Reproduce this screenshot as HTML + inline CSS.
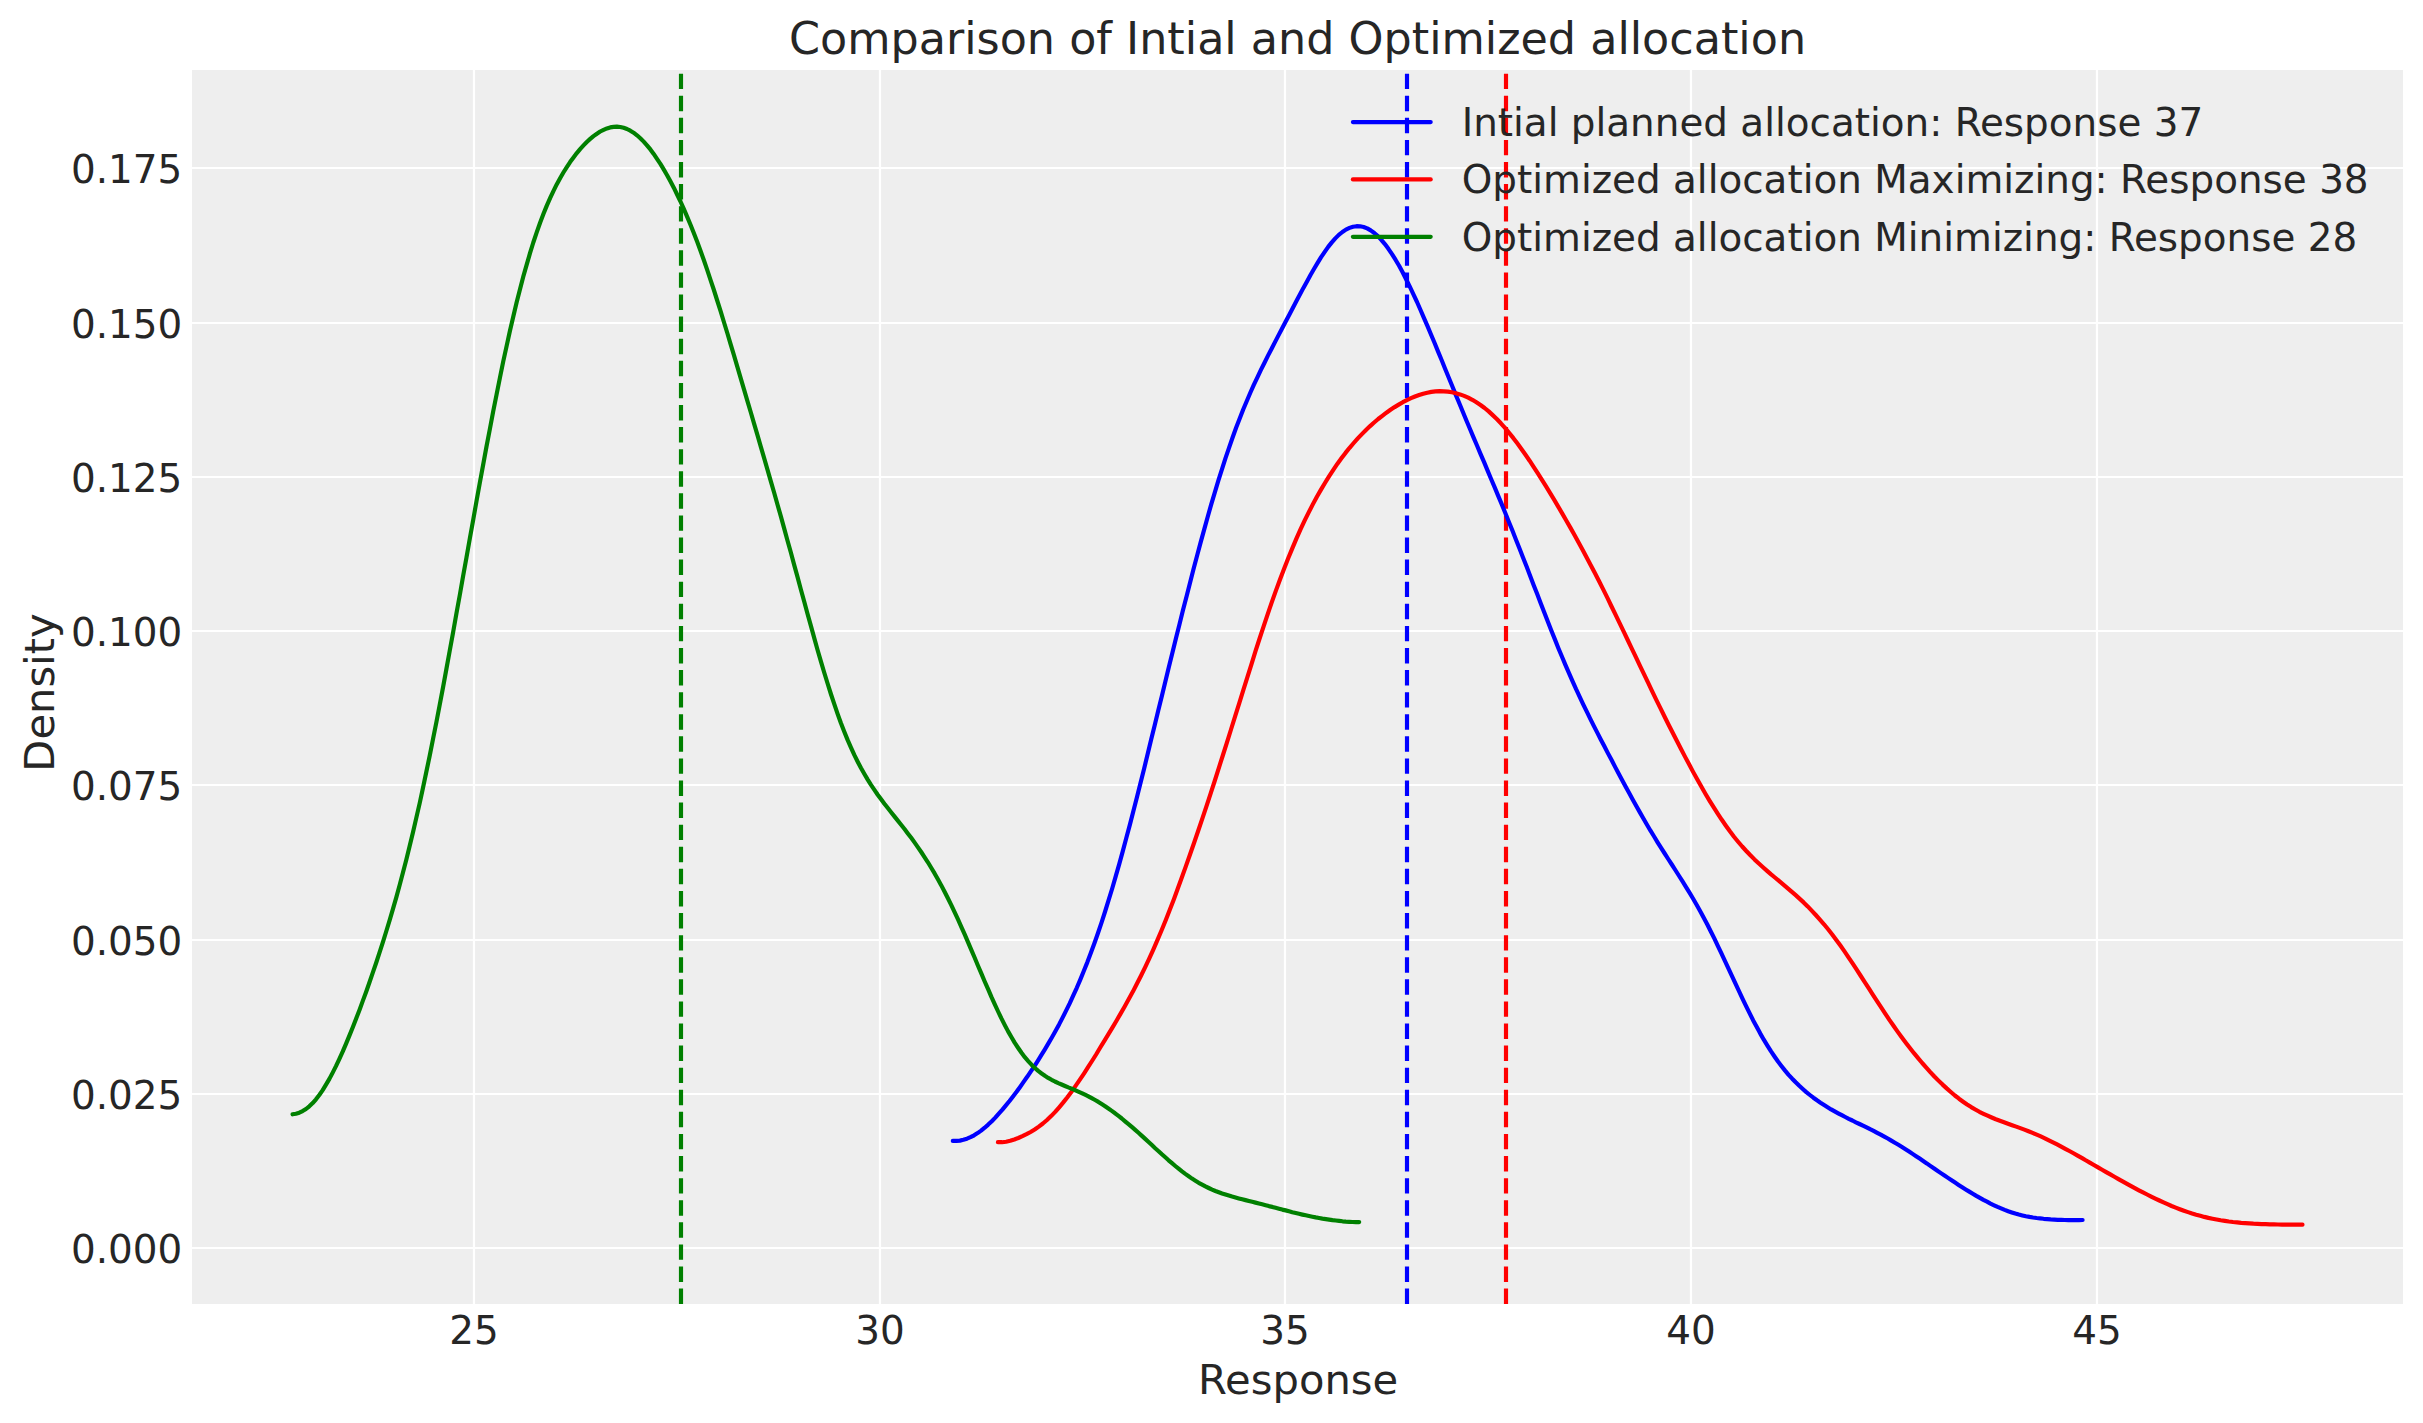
<!DOCTYPE html>
<html lang="en"><head><meta charset="utf-8">
<title>Comparison of Intial and Optimized allocation</title>
<style>
html,body{margin:0;padding:0;background:#fff;}
body{width:2423px;height:1423px;overflow:hidden;}
svg{display:block;}
text{font-family:"DejaVu Sans","Liberation Sans",sans-serif;fill:#262626;}
.tk{font-size:38.89px;}
.lb{font-size:41.67px;}
.tt{font-size:44.44px;}
.lg{font-size:38.89px;}
.grid line{stroke:#fff;stroke-width:2.22;}
.cv{fill:none;stroke-width:4.17;stroke-linecap:round;stroke-linejoin:round;}
.vl{fill:none;stroke-width:4.17;stroke-dasharray:15.42 6.67;}
</style></head><body>
<svg width="2423" height="1423" viewBox="0 0 2423 1423">
<rect x="0" y="0" width="2423" height="1423" fill="#ffffff"/>
<rect x="192" y="70" width="2211" height="1234" fill="#eeeeee"/>
<g class="grid">
<line x1="474.00" y1="70" x2="474.00" y2="1304"/>
<line x1="880.00" y1="70" x2="880.00" y2="1304"/>
<line x1="1285.00" y1="70" x2="1285.00" y2="1304"/>
<line x1="1691.00" y1="70" x2="1691.00" y2="1304"/>
<line x1="2097.00" y1="70" x2="2097.00" y2="1304"/>
<line x1="192" y1="1248.00" x2="2403" y2="1248.00"/>
<line x1="192" y1="1094.00" x2="2403" y2="1094.00"/>
<line x1="192" y1="940.00" x2="2403" y2="940.00"/>
<line x1="192" y1="785.00" x2="2403" y2="785.00"/>
<line x1="192" y1="631.00" x2="2403" y2="631.00"/>
<line x1="192" y1="477.00" x2="2403" y2="477.00"/>
<line x1="192" y1="323.00" x2="2403" y2="323.00"/>
<line x1="192" y1="168.00" x2="2403" y2="168.00"/>
</g>
<path class="vl" stroke="#0000ff" d="M1407,1304 L1407,70"/>
<path class="vl" stroke="#ff0000" d="M1506,1304 L1506,70"/>
<path class="vl" stroke="#008000" d="M681,1304 L681,70"/>
<path class="cv" stroke="#0000ff" d="M952.8,1140.9 L956.3,1140.9 L959.9,1140.6 L963.4,1139.8 L967.0,1138.7 L970.5,1137.2 L974.1,1135.3 L977.6,1133.1 L981.1,1130.6 L984.7,1127.7 L988.2,1124.6 L991.8,1121.2 L995.3,1117.6 L998.8,1113.7 L1002.4,1109.6 L1005.9,1105.4 L1009.5,1101.0 L1013.0,1096.4 L1016.6,1091.7 L1020.1,1086.9 L1023.6,1081.9 L1027.2,1076.8 L1030.7,1071.6 L1034.3,1066.3 L1037.8,1060.8 L1041.3,1055.1 L1044.9,1049.3 L1048.4,1043.4 L1052.0,1037.2 L1055.5,1030.9 L1059.1,1024.4 L1062.6,1017.6 L1066.1,1010.6 L1069.7,1003.3 L1073.2,995.7 L1076.8,987.8 L1080.3,979.6 L1083.8,971.0 L1087.4,962.1 L1090.9,952.8 L1094.5,943.1 L1098.0,933.0 L1101.6,922.4 L1105.1,911.5 L1108.6,900.2 L1112.2,888.5 L1115.7,876.4 L1119.3,863.9 L1122.8,851.1 L1126.3,838.0 L1129.9,824.6 L1133.4,810.9 L1137.0,797.0 L1140.5,782.9 L1144.1,768.7 L1147.6,754.3 L1151.1,739.8 L1154.7,725.3 L1158.2,710.8 L1161.8,696.2 L1165.3,681.7 L1168.8,667.2 L1172.4,652.8 L1175.9,638.5 L1179.5,624.2 L1183.0,610.1 L1186.6,596.2 L1190.1,582.4 L1193.6,568.7 L1197.2,555.3 L1200.7,542.1 L1204.3,529.1 L1207.8,516.5 L1211.3,504.1 L1214.9,492.1 L1218.4,480.4 L1222.0,469.1 L1225.5,458.1 L1229.1,447.6 L1232.6,437.5 L1236.1,427.8 L1239.7,418.5 L1243.2,409.5 L1246.8,401.0 L1250.3,392.8 L1253.8,384.9 L1257.4,377.3 L1260.9,369.9 L1264.5,362.7 L1268.0,355.6 L1271.6,348.7 L1275.1,341.9 L1278.6,335.1 L1282.2,328.3 L1285.7,321.5 L1289.3,314.7 L1292.8,308.0 L1296.3,301.3 L1299.9,294.6 L1303.4,287.9 L1307.0,281.4 L1310.5,275.0 L1314.1,268.8 L1317.6,262.9 L1321.1,257.2 L1324.7,251.9 L1328.2,246.9 L1331.8,242.4 L1335.3,238.4 L1338.8,234.9 L1342.4,232.0 L1345.9,229.6 L1349.5,227.9 L1353.0,226.7 L1356.6,226.2 L1360.1,226.3 L1363.6,227.0 L1367.2,228.4 L1370.7,230.4 L1374.3,233.0 L1377.8,236.1 L1381.3,239.8 L1384.9,244.1 L1388.4,248.8 L1392.0,254.1 L1395.5,259.7 L1399.1,265.8 L1402.6,272.3 L1406.1,279.2 L1409.7,286.4 L1413.2,293.8 L1416.8,301.5 L1420.3,309.5 L1423.8,317.6 L1427.4,325.9 L1430.9,334.3 L1434.5,342.8 L1438.0,351.4 L1441.6,360.0 L1445.1,368.7 L1448.6,377.3 L1452.2,386.0 L1455.7,394.6 L1459.3,403.2 L1462.8,411.7 L1466.3,420.2 L1469.9,428.7 L1473.4,437.1 L1477.0,445.5 L1480.5,453.9 L1484.1,462.2 L1487.6,470.6 L1491.1,479.0 L1494.7,487.4 L1498.2,495.9 L1501.8,504.4 L1505.3,513.0 L1508.8,521.7 L1512.4,530.5 L1515.9,539.4 L1519.5,548.4 L1523.0,557.4 L1526.6,566.5 L1530.1,575.7 L1533.6,584.9 L1537.2,594.1 L1540.7,603.3 L1544.3,612.5 L1547.8,621.6 L1551.3,630.6 L1554.9,639.4 L1558.4,648.2 L1562.0,656.7 L1565.5,665.1 L1569.1,673.3 L1572.6,681.3 L1576.1,689.2 L1579.7,696.8 L1583.2,704.3 L1586.8,711.6 L1590.3,718.8 L1593.8,725.9 L1597.4,732.9 L1600.9,739.8 L1604.5,746.6 L1608.0,753.4 L1611.6,760.1 L1615.1,766.9 L1618.6,773.5 L1622.2,780.2 L1625.7,786.8 L1629.3,793.3 L1632.8,799.7 L1636.3,806.1 L1639.9,812.4 L1643.4,818.6 L1647.0,824.7 L1650.5,830.7 L1654.1,836.5 L1657.6,842.3 L1661.1,847.9 L1664.7,853.5 L1668.2,859.0 L1671.8,864.5 L1675.3,870.0 L1678.8,875.5 L1682.4,881.1 L1685.9,886.8 L1689.5,892.6 L1693.0,898.5 L1696.6,904.7 L1700.1,911.0 L1703.6,917.6 L1707.2,924.3 L1710.7,931.3 L1714.3,938.4 L1717.8,945.8 L1721.3,953.2 L1724.9,960.8 L1728.4,968.4 L1732.0,976.1 L1735.5,983.7 L1739.1,991.3 L1742.6,998.8 L1746.1,1006.2 L1749.7,1013.4 L1753.2,1020.4 L1756.8,1027.1 L1760.3,1033.6 L1763.8,1039.7 L1767.4,1045.6 L1770.9,1051.2 L1774.5,1056.5 L1778.0,1061.5 L1781.6,1066.2 L1785.1,1070.6 L1788.6,1074.8 L1792.2,1078.7 L1795.7,1082.3 L1799.3,1085.8 L1802.8,1089.0 L1806.3,1092.1 L1809.9,1095.0 L1813.4,1097.7 L1817.0,1100.3 L1820.5,1102.7 L1824.1,1105.0 L1827.6,1107.2 L1831.1,1109.4 L1834.7,1111.4 L1838.2,1113.3 L1841.8,1115.2 L1845.3,1117.0 L1848.8,1118.8 L1852.4,1120.5 L1855.9,1122.3 L1859.5,1124.0 L1863.0,1125.7 L1866.6,1127.4 L1870.1,1129.2 L1873.6,1130.9 L1877.2,1132.8 L1880.7,1134.6 L1884.3,1136.6 L1887.8,1138.5 L1891.3,1140.6 L1894.9,1142.7 L1898.4,1144.8 L1902.0,1147.0 L1905.5,1149.2 L1909.1,1151.5 L1912.6,1153.9 L1916.1,1156.2 L1919.7,1158.6 L1923.2,1161.0 L1926.8,1163.4 L1930.3,1165.9 L1933.8,1168.3 L1937.4,1170.7 L1940.9,1173.1 L1944.5,1175.5 L1948.0,1177.9 L1951.6,1180.3 L1955.1,1182.6 L1958.6,1184.9 L1962.2,1187.2 L1965.7,1189.4 L1969.3,1191.6 L1972.8,1193.8 L1976.3,1195.9 L1979.9,1197.9 L1983.4,1199.9 L1987.0,1201.7 L1990.5,1203.6 L1994.1,1205.3 L1997.6,1206.9 L2001.1,1208.4 L2004.7,1209.9 L2008.2,1211.2 L2011.8,1212.4 L2015.3,1213.5 L2018.8,1214.5 L2022.4,1215.4 L2025.9,1216.2 L2029.5,1216.9 L2033.0,1217.5 L2036.6,1218.0 L2040.1,1218.4 L2043.6,1218.8 L2047.2,1219.1 L2050.7,1219.4 L2054.3,1219.6 L2057.8,1219.8 L2061.3,1219.9 L2064.9,1220.0 L2068.4,1220.1 L2072.0,1220.1 L2075.5,1220.1 L2079.1,1220.1 L2082.6,1220.0"/>
<path class="cv" stroke="#ff0000" d="M997.9,1142.2 L1002.0,1142.2 L1006.1,1141.7 L1010.2,1140.8 L1014.3,1139.5 L1018.3,1138.0 L1022.4,1136.2 L1026.5,1134.2 L1030.6,1132.0 L1034.7,1129.5 L1038.8,1126.6 L1042.9,1123.5 L1047.0,1120.0 L1051.1,1116.1 L1055.2,1111.9 L1059.2,1107.3 L1063.3,1102.4 L1067.4,1097.2 L1071.5,1091.7 L1075.6,1085.9 L1079.7,1079.9 L1083.8,1073.8 L1087.9,1067.4 L1092.0,1061.0 L1096.1,1054.5 L1100.1,1047.8 L1104.2,1041.2 L1108.3,1034.4 L1112.4,1027.6 L1116.5,1020.7 L1120.6,1013.6 L1124.7,1006.5 L1128.8,999.1 L1132.9,991.6 L1136.9,983.8 L1141.0,975.7 L1145.1,967.3 L1149.2,958.6 L1153.3,949.6 L1157.4,940.2 L1161.5,930.5 L1165.6,920.5 L1169.7,910.1 L1173.8,899.5 L1177.8,888.5 L1181.9,877.3 L1186.0,865.9 L1190.1,854.3 L1194.2,842.5 L1198.3,830.5 L1202.4,818.4 L1206.5,806.1 L1210.6,793.6 L1214.7,781.0 L1218.7,768.3 L1222.8,755.5 L1226.9,742.6 L1231.0,729.5 L1235.1,716.4 L1239.2,703.3 L1243.3,690.2 L1247.4,677.1 L1251.5,664.1 L1255.5,651.2 L1259.6,638.5 L1263.7,626.1 L1267.8,613.8 L1271.9,601.9 L1276.0,590.4 L1280.1,579.2 L1284.2,568.4 L1288.3,558.1 L1292.4,548.1 L1296.4,538.6 L1300.5,529.4 L1304.6,520.7 L1308.7,512.4 L1312.8,504.4 L1316.9,496.8 L1321.0,489.6 L1325.1,482.7 L1329.2,476.1 L1333.3,469.9 L1337.3,463.9 L1341.4,458.3 L1345.5,452.9 L1349.6,447.8 L1353.7,443.0 L1357.8,438.4 L1361.9,434.1 L1366.0,430.0 L1370.1,426.1 L1374.1,422.5 L1378.2,419.0 L1382.3,415.8 L1386.4,412.7 L1390.5,409.8 L1394.6,407.1 L1398.7,404.6 L1402.8,402.2 L1406.9,400.1 L1411.0,398.2 L1415.0,396.5 L1419.1,395.0 L1423.2,393.7 L1427.3,392.7 L1431.4,391.9 L1435.5,391.4 L1439.6,391.2 L1443.7,391.3 L1447.8,391.6 L1451.9,392.3 L1455.9,393.2 L1460.0,394.4 L1464.1,395.9 L1468.2,397.7 L1472.3,399.8 L1476.4,402.3 L1480.5,405.0 L1484.6,408.0 L1488.7,411.4 L1492.7,415.1 L1496.8,419.0 L1500.9,423.3 L1505.0,427.9 L1509.1,432.8 L1513.2,437.9 L1517.3,443.3 L1521.4,448.9 L1525.5,454.7 L1529.6,460.7 L1533.6,466.9 L1537.7,473.2 L1541.8,479.7 L1545.9,486.2 L1550.0,492.9 L1554.1,499.7 L1558.2,506.6 L1562.3,513.6 L1566.4,520.7 L1570.5,527.9 L1574.5,535.1 L1578.6,542.5 L1582.7,550.0 L1586.8,557.7 L1590.9,565.4 L1595.0,573.3 L1599.1,581.3 L1603.2,589.4 L1607.3,597.6 L1611.3,606.0 L1615.4,614.4 L1619.5,622.9 L1623.6,631.4 L1627.7,640.0 L1631.8,648.6 L1635.9,657.2 L1640.0,665.8 L1644.1,674.4 L1648.2,682.9 L1652.2,691.4 L1656.3,699.8 L1660.4,708.2 L1664.5,716.5 L1668.6,724.7 L1672.7,732.8 L1676.8,740.8 L1680.9,748.7 L1685.0,756.6 L1689.1,764.3 L1693.1,771.9 L1697.2,779.3 L1701.3,786.6 L1705.4,793.7 L1709.5,800.6 L1713.6,807.2 L1717.7,813.6 L1721.8,819.8 L1725.9,825.7 L1729.9,831.3 L1734.0,836.7 L1738.1,841.7 L1742.2,846.5 L1746.3,851.0 L1750.4,855.3 L1754.5,859.4 L1758.6,863.3 L1762.7,867.0 L1766.8,870.6 L1770.8,874.1 L1774.9,877.5 L1779.0,880.9 L1783.1,884.3 L1787.2,887.8 L1791.3,891.3 L1795.4,894.9 L1799.5,898.6 L1803.6,902.4 L1807.7,906.4 L1811.7,910.6 L1815.8,915.0 L1819.9,919.6 L1824.0,924.3 L1828.1,929.3 L1832.2,934.5 L1836.3,940.0 L1840.4,945.6 L1844.5,951.4 L1848.5,957.3 L1852.6,963.4 L1856.7,969.7 L1860.8,976.0 L1864.9,982.3 L1869.0,988.7 L1873.1,995.1 L1877.2,1001.4 L1881.3,1007.6 L1885.4,1013.8 L1889.4,1019.9 L1893.5,1025.8 L1897.6,1031.6 L1901.7,1037.2 L1905.8,1042.7 L1909.9,1048.0 L1914.0,1053.2 L1918.1,1058.1 L1922.2,1063.0 L1926.3,1067.6 L1930.3,1072.1 L1934.4,1076.5 L1938.5,1080.6 L1942.6,1084.6 L1946.7,1088.4 L1950.8,1092.0 L1954.9,1095.5 L1959.0,1098.7 L1963.1,1101.7 L1967.1,1104.5 L1971.2,1107.1 L1975.3,1109.5 L1979.4,1111.8 L1983.5,1113.8 L1987.6,1115.7 L1991.7,1117.5 L1995.8,1119.2 L1999.9,1120.7 L2004.0,1122.2 L2008.0,1123.7 L2012.1,1125.2 L2016.2,1126.6 L2020.3,1128.1 L2024.4,1129.6 L2028.5,1131.2 L2032.6,1132.9 L2036.7,1134.6 L2040.8,1136.4 L2044.9,1138.3 L2048.9,1140.3 L2053.0,1142.3 L2057.1,1144.4 L2061.2,1146.6 L2065.3,1148.8 L2069.4,1151.0 L2073.5,1153.3 L2077.6,1155.6 L2081.7,1157.9 L2085.7,1160.3 L2089.8,1162.6 L2093.9,1165.0 L2098.0,1167.4 L2102.1,1169.7 L2106.2,1172.1 L2110.3,1174.4 L2114.4,1176.7 L2118.5,1179.1 L2122.6,1181.4 L2126.6,1183.6 L2130.7,1185.9 L2134.8,1188.1 L2138.9,1190.3 L2143.0,1192.4 L2147.1,1194.5 L2151.2,1196.6 L2155.3,1198.6 L2159.4,1200.5 L2163.5,1202.4 L2167.5,1204.2 L2171.6,1206.0 L2175.7,1207.6 L2179.8,1209.2 L2183.9,1210.7 L2188.0,1212.1 L2192.1,1213.5 L2196.2,1214.7 L2200.3,1215.8 L2204.3,1216.9 L2208.4,1217.9 L2212.5,1218.7 L2216.6,1219.5 L2220.7,1220.3 L2224.8,1220.9 L2228.9,1221.5 L2233.0,1222.0 L2237.1,1222.4 L2241.2,1222.8 L2245.2,1223.1 L2249.3,1223.4 L2253.4,1223.7 L2257.5,1223.9 L2261.6,1224.1 L2265.7,1224.2 L2269.8,1224.3 L2273.9,1224.4 L2278.0,1224.5 L2282.1,1224.6 L2286.1,1224.6 L2290.2,1224.7 L2294.3,1224.7 L2298.4,1224.7 L2302.5,1224.7"/>
<path class="cv" stroke="#008000" d="M292.6,1114.3 L295.9,1113.7 L299.3,1112.7 L302.6,1111.1 L306.0,1109.0 L309.3,1106.3 L312.7,1103.1 L316.0,1099.3 L319.3,1095.0 L322.7,1090.1 L326.0,1084.7 L329.4,1078.9 L332.7,1072.6 L336.1,1065.9 L339.4,1058.8 L342.8,1051.4 L346.1,1043.6 L349.4,1035.6 L352.8,1027.2 L356.1,1018.7 L359.5,1009.9 L362.8,1000.9 L366.2,991.7 L369.5,982.3 L372.8,972.6 L376.2,962.7 L379.5,952.6 L382.9,942.2 L386.2,931.5 L389.6,920.4 L392.9,909.1 L396.3,897.3 L399.6,885.2 L402.9,872.7 L406.3,859.7 L409.6,846.2 L413.0,832.3 L416.3,817.9 L419.7,803.1 L423.0,787.8 L426.3,772.0 L429.7,755.8 L433.0,739.2 L436.4,722.1 L439.7,704.8 L443.1,687.0 L446.4,669.0 L449.7,650.8 L453.1,632.3 L456.4,613.7 L459.8,595.0 L463.1,576.2 L466.5,557.4 L469.8,538.6 L473.2,519.8 L476.5,501.2 L479.8,482.8 L483.2,464.5 L486.5,446.5 L489.9,428.8 L493.2,411.4 L496.6,394.4 L499.9,377.9 L503.2,361.7 L506.6,346.1 L509.9,331.0 L513.3,316.5 L516.6,302.6 L520.0,289.3 L523.3,276.6 L526.7,264.6 L530.0,253.2 L533.3,242.5 L536.7,232.4 L540.0,223.0 L543.4,214.1 L546.7,205.9 L550.1,198.2 L553.4,191.1 L556.7,184.4 L560.1,178.2 L563.4,172.5 L566.8,167.1 L570.1,162.1 L573.5,157.5 L576.8,153.1 L580.1,149.1 L583.5,145.4 L586.8,142.0 L590.2,138.9 L593.5,136.1 L596.9,133.7 L600.2,131.5 L603.6,129.8 L606.9,128.4 L610.2,127.4 L613.6,126.9 L616.9,126.7 L620.3,127.0 L623.6,127.8 L627.0,129.0 L630.3,130.7 L633.6,132.7 L637.0,135.3 L640.3,138.2 L643.7,141.6 L647.0,145.3 L650.4,149.4 L653.7,153.9 L657.0,158.8 L660.4,163.9 L663.7,169.4 L667.1,175.2 L670.4,181.3 L673.8,187.7 L677.1,194.5 L680.5,201.5 L683.8,208.9 L687.1,216.6 L690.5,224.7 L693.8,233.1 L697.2,241.8 L700.5,250.8 L703.9,260.2 L707.2,269.9 L710.5,279.8 L713.9,290.0 L717.2,300.5 L720.6,311.2 L723.9,322.0 L727.3,333.0 L730.6,344.1 L734.0,355.3 L737.3,366.6 L740.6,377.9 L744.0,389.3 L747.3,400.6 L750.7,412.0 L754.0,423.4 L757.4,434.8 L760.7,446.3 L764.0,457.7 L767.4,469.3 L770.7,480.8 L774.1,492.5 L777.4,504.3 L780.8,516.1 L784.1,528.1 L787.4,540.2 L790.8,552.3 L794.1,564.6 L797.5,576.9 L800.8,589.2 L804.2,601.5 L807.5,613.7 L810.9,625.9 L814.2,637.9 L817.5,649.7 L820.9,661.3 L824.2,672.5 L827.6,683.5 L830.9,694.0 L834.3,704.1 L837.6,713.8 L840.9,723.0 L844.3,731.7 L847.6,739.9 L851.0,747.6 L854.3,754.9 L857.7,761.7 L861.0,768.0 L864.4,774.0 L867.7,779.6 L871.0,784.9 L874.4,789.9 L877.7,794.7 L881.1,799.3 L884.4,803.7 L887.8,808.0 L891.1,812.2 L894.4,816.4 L897.8,820.6 L901.1,824.8 L904.5,829.0 L907.8,833.4 L911.2,837.8 L914.5,842.4 L917.8,847.1 L921.2,852.0 L924.5,857.1 L927.9,862.3 L931.2,867.8 L934.6,873.4 L937.9,879.3 L941.3,885.4 L944.6,891.8 L947.9,898.3 L951.3,905.1 L954.6,912.2 L958.0,919.4 L961.3,926.8 L964.7,934.4 L968.0,942.1 L971.3,949.9 L974.7,957.8 L978.0,965.7 L981.4,973.6 L984.7,981.5 L988.1,989.2 L991.4,996.9 L994.8,1004.3 L998.1,1011.5 L1001.4,1018.4 L1004.8,1025.1 L1008.1,1031.4 L1011.5,1037.3 L1014.8,1042.9 L1018.2,1048.0 L1021.5,1052.8 L1024.8,1057.2 L1028.2,1061.1 L1031.5,1064.7 L1034.9,1068.0 L1038.2,1070.9 L1041.6,1073.5 L1044.9,1075.8 L1048.2,1077.9 L1051.6,1079.8 L1054.9,1081.5 L1058.3,1083.1 L1061.6,1084.5 L1065.0,1086.0 L1068.3,1087.4 L1071.7,1088.7 L1075.0,1090.1 L1078.3,1091.6 L1081.7,1093.1 L1085.0,1094.7 L1088.4,1096.3 L1091.7,1098.1 L1095.1,1100.0 L1098.4,1101.9 L1101.7,1104.0 L1105.1,1106.2 L1108.4,1108.5 L1111.8,1110.9 L1115.1,1113.3 L1118.5,1115.9 L1121.8,1118.5 L1125.1,1121.3 L1128.5,1124.1 L1131.8,1126.9 L1135.2,1129.9 L1138.5,1132.8 L1141.9,1135.9 L1145.2,1138.9 L1148.6,1142.0 L1151.9,1145.1 L1155.2,1148.2 L1158.6,1151.2 L1161.9,1154.3 L1165.3,1157.3 L1168.6,1160.3 L1172.0,1163.2 L1175.3,1166.0 L1178.6,1168.7 L1182.0,1171.4 L1185.3,1173.9 L1188.7,1176.3 L1192.0,1178.6 L1195.4,1180.7 L1198.7,1182.8 L1202.1,1184.6 L1205.4,1186.4 L1208.7,1188.0 L1212.1,1189.6 L1215.4,1191.0 L1218.8,1192.3 L1222.1,1193.5 L1225.5,1194.6 L1228.8,1195.6 L1232.1,1196.6 L1235.5,1197.5 L1238.8,1198.4 L1242.2,1199.3 L1245.5,1200.1 L1248.9,1201.0 L1252.2,1201.8 L1255.5,1202.6 L1258.9,1203.5 L1262.2,1204.3 L1265.6,1205.2 L1268.9,1206.1 L1272.3,1206.9 L1275.6,1207.8 L1279.0,1208.7 L1282.3,1209.6 L1285.6,1210.4 L1289.0,1211.3 L1292.3,1212.2 L1295.7,1213.0 L1299.0,1213.8 L1302.4,1214.6 L1305.7,1215.3 L1309.0,1216.0 L1312.4,1216.7 L1315.7,1217.4 L1319.1,1218.0 L1322.4,1218.6 L1325.8,1219.1 L1329.1,1219.6 L1332.5,1220.1 L1335.8,1220.5 L1339.1,1220.9 L1342.5,1221.3 L1345.8,1221.6 L1349.2,1221.8 L1352.5,1222.0 L1355.9,1222.1 L1359.2,1222.1"/>
<g class="tk" text-anchor="middle">
<text x="474.00" y="1343.6">25</text>
<text x="880.00" y="1343.6">30</text>
<text x="1285.00" y="1343.6">35</text>
<text x="1691.00" y="1343.6">40</text>
<text x="2097.00" y="1343.6">45</text>
</g><g class="tk" text-anchor="end">
<text x="182.3" y="1262.60">0.000</text>
<text x="182.3" y="1108.60">0.025</text>
<text x="182.3" y="954.60">0.050</text>
<text x="182.3" y="799.60">0.075</text>
<text x="182.3" y="645.60">0.100</text>
<text x="182.3" y="491.60">0.125</text>
<text x="182.3" y="337.60">0.150</text>
<text x="182.3" y="182.60">0.175</text>
</g>
<text class="tt" text-anchor="middle" x="1297.5" y="54.4">Comparison of Intial and Optimized allocation</text>
<text class="lb" text-anchor="middle" x="1298.1" y="1394">Response</text>
<text class="lb" text-anchor="middle" transform="translate(54,692.5) rotate(-90)">Density</text>
<path class="cv" stroke="#0000ff" d="M1352.9,122.1 L1430.7,122.1"/>
<text class="lg" x="1461.7" y="135.7">Intial planned allocation: Response 37</text>
<path class="cv" stroke="#ff0000" d="M1352.9,179.4 L1430.7,179.4"/>
<text class="lg" x="1461.7" y="193.3">Optimized allocation Maximizing: Response 38</text>
<path class="cv" stroke="#008000" d="M1352.9,236.8 L1430.7,236.8"/>
<text class="lg" x="1461.7" y="250.9">Optimized allocation Minimizing: Response 28</text>
</svg></body></html>
